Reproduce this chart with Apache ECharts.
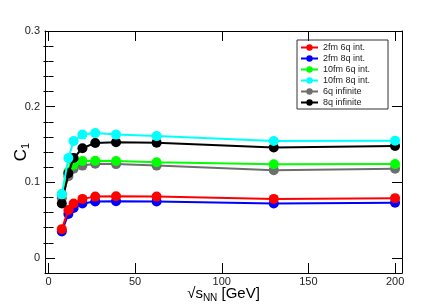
<!DOCTYPE html>
<html>
<head>
<meta charset="utf-8">
<script src="https://cdn.jsdelivr.net/npm/echarts@6/dist/echarts.min.js"></script>
<style>html,body{margin:0;padding:0;background:#fff}#c{width:447px;height:304px}</style>
</head>
<body>
<div id="c"></div>
<script>
const energies = [7.7, 11.5, 14.5, 19.6, 27, 39, 62.4, 130, 200];
const fm2_6q  = [0.038, 0.0634, 0.072, 0.078, 0.081, 0.0815, 0.081, 0.078, 0.079];
const fm2_8q  = [0.035, 0.058, 0.066, 0.072, 0.0745, 0.0748, 0.0745, 0.072, 0.073];
const fm10_6q = [0.0845, 0.114, 0.123, 0.128, 0.1285, 0.128, 0.1265, 0.1237, 0.124];
const fm10_8q = [0.084, 0.132, 0.1546, 0.163, 0.165, 0.163, 0.161, 0.1545, 0.155];
const inf_6q  = [0.079, 0.108, 0.118, 0.122, 0.1245, 0.124, 0.122, 0.116, 0.118];
const inf_8q  = [0.072, 0.112, 0.132, 0.145, 0.152, 0.153, 0.1523, 0.146, 0.148];
const xTicks = [0, 50, 100, 150, 200];
const yTicks = [0, 0.1, 0.2, 0.3];
const yMinorTicks = [0.02, 0.04, 0.06, 0.08, 0.12, 0.14, 0.16, 0.18, 0.22, 0.24, 0.26, 0.28];
const legendNames = ['2fm 6q int.', '2fm 8q int.', '10fm 6q int.', '10fm 8q int.', '6q infinite', '8q infinite'];

const FONT = 'Liberation Sans';
function pts(arr){ return energies.map((e,i)=>[e, arr[i]]); }
function ser(name, arr, color, z){
  return {name, type:'line', data:pts(arr), symbol:'circle', symbolSize:10,
    lineStyle:{color, width:2}, itemStyle:{color}, z, animation:false};
}
const chart = echarts.init(document.getElementById('c'), null, {renderer:'canvas'});
const xBase = {type:'value', min:-2, max:204, splitLine:{show:false},
  axisLine:{show:true, onZero:false, lineStyle:{color:'#000', width:1}},
  axisTick:{show:true, inside:true, length:10, customValues:xTicks, lineStyle:{color:'#000'}},
  axisLabel:{show:true, customValues:xTicks, fontFamily:FONT, fontSize:11, color:'#222', margin:3}};
const yBase = {type:'value', min:-0.02, max:0.3, splitLine:{show:false},
  axisLine:{show:true, onZero:false, lineStyle:{color:'#000', width:1}},
  axisTick:{show:true, inside:true, length:10, customValues:yTicks, lineStyle:{color:'#000'}},
  axisLabel:{show:true, customValues:yTicks, fontFamily:FONT, fontSize:11, color:'#222', margin:5,
    formatter:v=>String(Math.round(v*10)/10)}};
const option = {
  backgroundColor:'#fff',
  animation:false,
  grid:{left:45, right:45, top:31, bottom:31, containLabel:false, outerBoundsMode:'none'},
  legend:{data:legendNames, orient:'vertical', left:297, top:40, itemWidth:17, itemHeight:8, itemGap:2,
    borderColor:'#333', borderWidth:1, borderRadius:0, padding:[3,18,2,3],
    textStyle:{fontFamily:FONT, fontSize:9, color:'#222'}},
  xAxis:[
    Object.assign({}, xBase, {position:'bottom',
      name:'{a|√s}{s|NN}{a| [GeV]}', nameLocation:'middle', nameGap:12, nameMoveOverlap:false,
      nameTextStyle:{rich:{a:{fontFamily:FONT, fontSize:15, color:'#000'}, s:{fontFamily:FONT, fontSize:10, color:'#000', padding:[8,0,0,0]}}}}),
    Object.assign({}, xBase, {position:'top', axisLabel:{show:false}})
  ],
  yAxis:[
    Object.assign({}, yBase, {position:'left',
      name:'{a|C}{s|1}', nameLocation:'middle', nameGap:14, nameRotate:90, nameMoveOverlap:false,
      nameTextStyle:{rich:{a:{fontFamily:FONT, fontSize:17, color:'#000'}, s:{fontFamily:FONT, fontSize:11, color:'#000', padding:[8,0,0,0]}}}}),
    Object.assign({}, yBase, {position:'right', axisLabel:{show:false}}),
    Object.assign({}, yBase, {position:'left', axisLine:{show:false}, axisLabel:{show:false},
      axisTick:{show:true, inside:true, length:5, customValues:yMinorTicks, lineStyle:{color:'#000'}}}),
    Object.assign({}, yBase, {position:'right', axisLine:{show:false}, axisLabel:{show:false},
      axisTick:{show:true, inside:true, length:5, customValues:yMinorTicks, lineStyle:{color:'#000'}}})
  ],
  series:[
    ser(legendNames[1], fm2_8q, '#0000ff', 2),
    ser(legendNames[0], fm2_6q, '#ff0000', 3),
    ser(legendNames[4], inf_6q, '#6e6e6e', 4),
    ser(legendNames[2], fm10_6q, '#00ff00', 5),
    ser(legendNames[5], inf_8q, '#000000', 6),
    ser(legendNames[3], fm10_8q, '#00ffff', 7)
  ]
};
chart.setOption(option);
</script>
</body>
</html>
